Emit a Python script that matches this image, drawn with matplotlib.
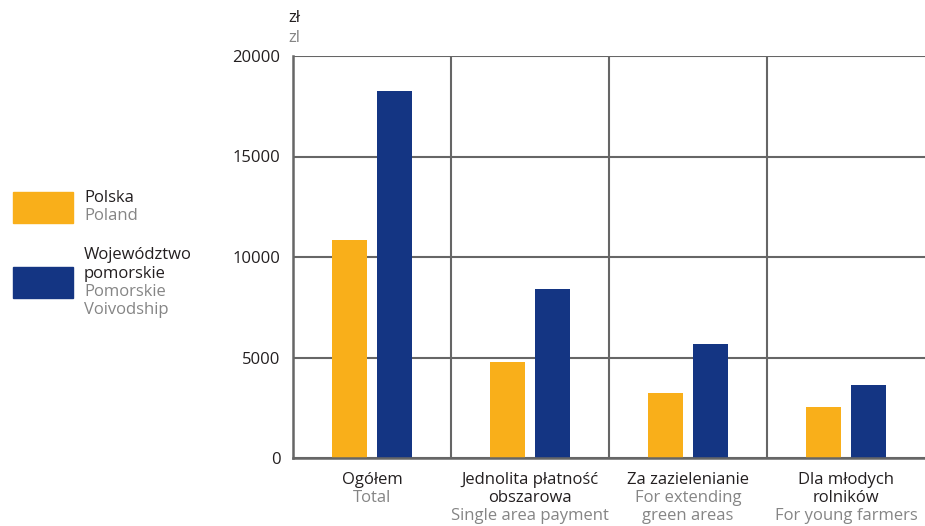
import matplotlib
matplotlib.use("Agg")
import matplotlib.pyplot as plt
import numpy as np
from matplotlib.patches import Rectangle
from matplotlib.transforms import blended_transform_factory

plt.rcParams['font.family'] = ['Open Sans', 'DejaVu Sans']

categories_pl = ["Ogółem", "Jednolita płatność\nobszarowa", "Za zazielenianie", "Dla młodych\nrolników"]
categories_en = ["Total", "Single area payment", "For extending\ngreen areas", "For young farmers"]
polska = [10850, 4780, 3230, 2530]
pomorskie = [18280, 8390, 5650, 3630]
yticks = [0, 5000, 10000, 15000, 20000]
legend_pl = ["Polska", "Województwo\npomorskie"]
legend_en = ["Poland", "Pomorskie\nVoivodship"]

ORANGE = "#F9AF1A"
BLUE = "#143583"
DARK = "#231F20"
GRAY = "#858585"
GRID = "#666666"
FS = 12

W, H = 925, 526
fig = plt.figure(figsize=(9.25, 5.26), dpi=100)
ax = fig.add_axes([293/W, 1-458/H, 1-293/W, (458-56)/H])

x = np.arange(len(categories_pl))
w = 0.227
off = 0.142
ax.bar(x - off, polska, width=w, color=ORANGE, zorder=3)
ax.bar(x + off, pomorskie, width=w, color=BLUE, zorder=3)

ax.set_xlim(-0.5, 3.5)
ax.set_ylim(0, 20000)
ax.set_yticks(yticks)
ax.set_yticklabels([str(v) for v in yticks], fontsize=FS, color=DARK)
ax.tick_params(axis='y', length=0, pad=9)
ax.set_xticks([])
ax.set_xticks([0.5, 1.5, 2.5], minor=True)
ax.tick_params(axis='x', which='both', length=0)
ax.grid(True, axis='y', color=GRID, lw=1.5, zorder=1)
ax.grid(True, axis='x', which='minor', color=GRID, lw=1.5, zorder=1)
for s in ['top', 'right']:
    ax.spines[s].set_visible(False)
for s in ['left', 'bottom']:
    ax.spines[s].set_color(GRID)
    ax.spines[s].set_linewidth(1.8)
    ax.spines[s].set_zorder(4)

# category labels, one line at a time
tr = blended_transform_factory(ax.transData, fig.transFigure)
line_h = 18
for i in range(len(categories_pl)):
    lines = [(t, DARK) for t in categories_pl[i].split("\n")] + \
            [(t, GRAY) for t in categories_en[i].split("\n")]
    for k, (t, c) in enumerate(lines):
        yy = 480 + k * line_h
        ax.text(x[i], 1 - yy/H, t, transform=tr, ha='center', va='center',
                fontsize=FS, color=c, clip_on=False)

# unit
fig.text(288/W, 1-18/H, "zł", fontsize=FS, color=DARK, va='center', ha='left')
fig.text(288/W, 1-38/H, "zl", fontsize=FS, color=GRAY, va='center', ha='left')

# legend
colors = [ORANGE, BLUE]
patch_y = [192, 267]
text_y = [198, 255]
for c, py, ty, lp, le in zip(colors, patch_y, text_y, legend_pl, legend_en):
    fig.patches.append(Rectangle((13/W, 1-(py+31)/H), 60/W, 31/H,
                                 transform=fig.transFigure, color=c))
    lines = [(t, DARK) for t in lp.split("\n")] + [(t, GRAY) for t in le.split("\n")]
    for k, (t, col) in enumerate(lines):
        fig.text(84/W, 1-(ty + k*18.5)/H, t, fontsize=FS, color=col, va='center', ha='left')

fig.savefig("out.png", dpi=100)
